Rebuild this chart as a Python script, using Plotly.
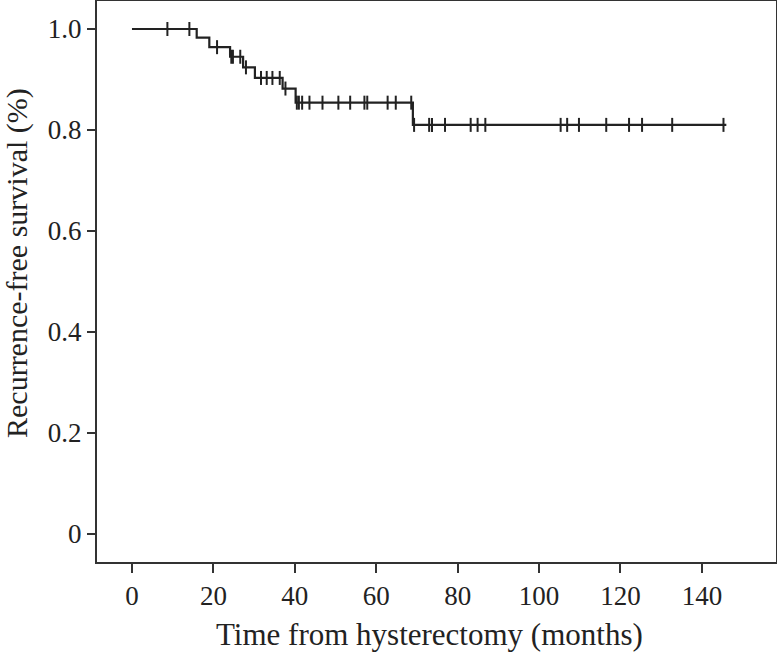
import numpy as np
import plotly.graph_objects as go

# Kaplan-Meier step data (months, survival probability)
event_times = [15.9, 19.0, 24.1, 27.3, 30.2, 37.0, 40.2, 69.0]
surv_levels = [0.983, 0.964, 0.945, 0.924, 0.903, 0.882, 0.854, 0.810]
end_time = 146.0

censor_times = [8.7, 14.1, 20.9, 24.4, 24.8, 26.6, 28.0,
                31.7, 33.1, 34.5, 36.3, 37.7,
                40.5, 41.0, 41.8, 43.6, 46.8, 50.7, 53.6, 57.1, 57.8, 62.8, 64.8, 68.6,
                69.3, 73.0, 73.7, 76.9, 83.2, 84.9, 86.8, 105.3, 106.9, 109.8,
                116.5, 122.1, 125.3, 132.7, 145.3]

x_ticks = [0, 20, 40, 60, 80, 100, 120, 140]
y_ticks = [0, 0.2, 0.4, 0.6, 0.8, 1.0]
y_tick_labels = ["0", "0.2", "0.4", "0.6", "0.8", "1.0"]

step_x = [0.0] + event_times + [end_time]
step_y = [1.0] + surv_levels + [surv_levels[-1]]

# survival at each censor time from the step function
idx = np.searchsorted(np.array(event_times), np.array(censor_times), side="right")
all_levels = np.array([1.0] + surv_levels)
censor_y = all_levels[idx]

line_color = "#222222"
axis_color = "#333333"
font_family = "Liberation Serif, Times New Roman, serif"

fig = go.Figure()
fig.add_trace(go.Scatter(x=step_x, y=step_y, mode="lines", line_shape="hv",
                         line=dict(color=line_color, width=2.2), showlegend=False,
                         hoverinfo="skip"))
fig.add_trace(go.Scatter(x=censor_times, y=censor_y, mode="markers",
                         marker=dict(symbol="line-ns", size=10,
                                     line=dict(color=line_color, width=2)),
                         showlegend=False))

fig.update_layout(
    width=777, height=653,
    margin=dict(l=97, r=1, t=1, b=91, autoexpand=False),
    paper_bgcolor="white", plot_bgcolor="white",
    font=dict(family=font_family, color="#222222", size=27),
    xaxis=dict(range=[-8.59, 158.2], tickvals=x_ticks, ticks="outside", ticklen=9,
               tickwidth=1.5, tickcolor=axis_color, showline=True, linewidth=2,
               linecolor=axis_color, mirror=True, showgrid=False, zeroline=False,
               automargin=False, tickfont=dict(size=27)),
    yaxis=dict(range=[-0.0563, 1.0555], tickvals=y_ticks, ticktext=y_tick_labels,
               ticks="outside", ticklen=8, tickwidth=1.5, tickcolor=axis_color,
               showline=True, linewidth=2, linecolor=axis_color, mirror=True,
               showgrid=False, zeroline=False, automargin=False,
               tickfont=dict(size=27)),
    annotations=[
        dict(text="Time from hysterectomy (months)", xref="paper", yref="paper",
             x=(429 - 97) / 679, y=-(634 - 562) / 561, xanchor="center", yanchor="middle",
             showarrow=False, font=dict(size=31, family=font_family, color="#222222")),
        dict(text="Recurrence-free survival (%)", xref="paper", yref="paper",
             x=-(97 - 17) / 679, y=(562 - 263) / 561, xanchor="center", yanchor="middle",
             textangle=-90, showarrow=False, borderpad=0,
             font=dict(size=30, family=font_family, color="#222222")),
    ],
)

fig.write_html("out.html", config={"displayModeBar": False},
               post_script="document.body.style.margin='0';document.body.style.overflow='hidden';")
